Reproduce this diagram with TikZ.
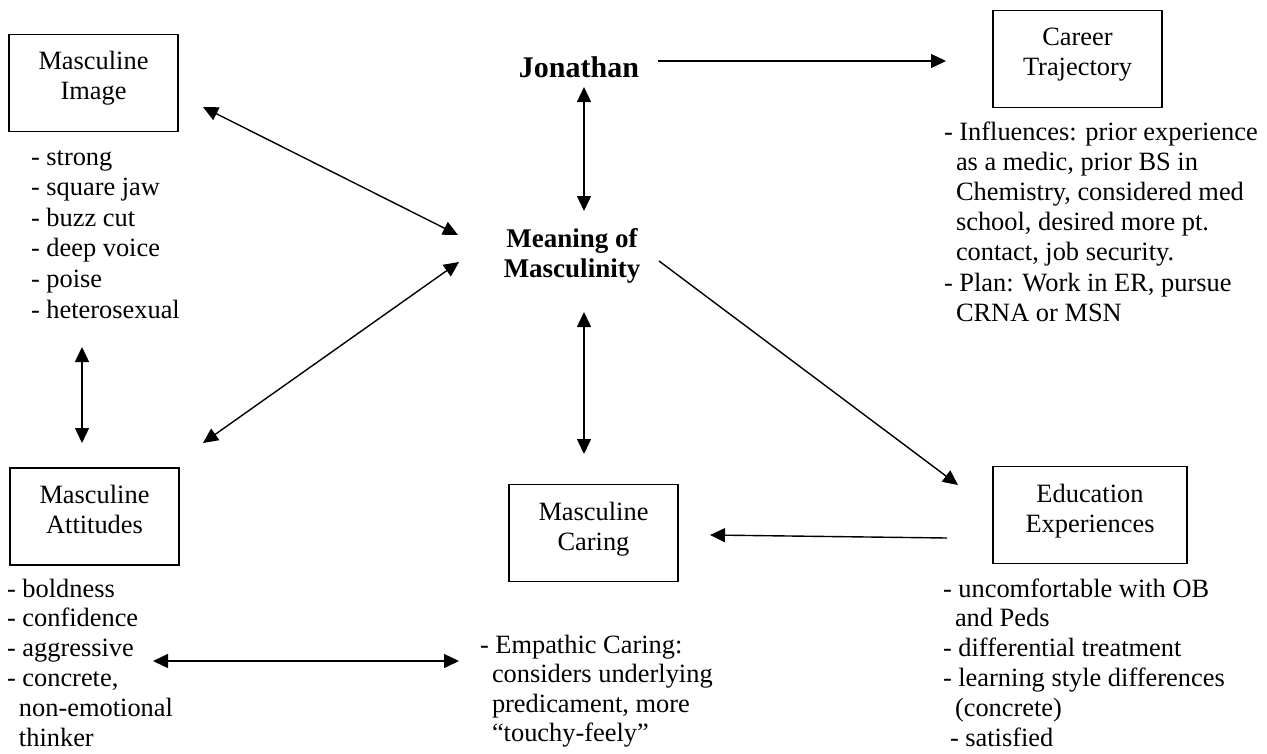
\documentclass[tikz,border=0pt]{standalone}
\usepackage{fontspec}
\setmainfont{Liberation Serif}
\usetikzlibrary{arrows.meta}

% stacked lines whose reference point is the baseline of the first line
\newcommand\stackL[1]{\begin{tabular}[t]{@{}l@{}}#1\end{tabular}}
\newcommand\stackC[1]{\begin{tabular}[t]{@{}c@{}}#1\end{tabular}}
\newcommand\cont{\hspace*{12pt}}

\begin{document}
\begin{tikzpicture}[x=1pt,y=-1pt,
  every node/.style={inner sep=0pt, outer sep=0pt, font=\fontsize{26.4}{30.6}\selectfont},
  frame/.style={draw, line width=1.3pt, minimum height=97pt},
  lbl/.style={anchor=base},
  lst/.style={anchor=base west},
  link/.style={line width=1.4pt, -{Triangle[length=15pt,width=14pt]}},
  both/.style={line width=1.4pt, {Triangle[length=15pt,width=14pt]}-{Triangle[length=15pt,width=14pt]}},
]
\useasboundingbox[fill=white] (0,0) rectangle (1267,753);

% ---- boxes ----
\node[frame, minimum width=169pt] (img)  at (93.5,83)   {};
\node[frame, minimum width=169pt] (car)  at (1077.5,59) {};
\node[frame, minimum width=169pt] (att)  at (94.5,516.5) {};
\node[frame, minimum width=169pt] (cari) at (593.5,533) {};
\node[frame, minimum width=194pt] (edu)  at (1090,515)  {};

% ---- box titles ----
\node[lbl] (imgT)  at (93.5,69)   {\stackC{Masculine\\Image}};
\node[lbl] (carT)  at (1077.5,45) {\stackC{Career\\Trajectory}};
\node[lbl] (attT)  at (94.5,503)  {\stackC{Masculine\\Attitudes}};
\node[lbl] (cariT) at (593.5,520) {\stackC{Masculine\\Caring}};
\node[lbl] (eduT)  at (1090,502)  {\stackC{Education\\Experiences}};

% ---- central labels ----
\node[lbl, font=\fontsize{30}{34}\selectfont\bfseries] (jon) at (579,77) {Jonathan};
\node[lbl, font=\fontsize{27}{30}\selectfont\bfseries] (mean) at (572,247) {\stackC{Meaning of\\Masculinity}};

% ---- attribute lists ----
\node[lst] (imgL) at (31,165) {\stackL{- strong\\- square jaw\\- buzz cut\\- deep voice\\- poise\\- heterosexual}};
\node[lst, font=\fontsize{26.4}{30.2}\selectfont] (carL) at (944,140) {\stackL{- Influences: prior experience\\\cont as a medic, prior BS in\\\cont Chemistry, considered med\\\cont school, desired more pt.\\\cont contact, job security.\\- Plan: Work in ER, pursue\\\cont CRNA or MSN}};
\node[lst, font=\fontsize{26.4}{29.8}\selectfont] (attL) at (7,597) {\stackL{- boldness\\- confidence\\- aggressive\\- concrete,\\\cont non-emotional\\\cont thinker}};
\node[lst, font=\fontsize{26.4}{29.5}\selectfont] (cariL) at (480,653) {\stackL{- Empathic Caring:\\\cont considers underlying\\\cont predicament, more\\\cont “touchy-feely”}};
\node[lst, font=\fontsize{26.4}{29.8}\selectfont] (eduL) at (943,597) {\stackL{- uncomfortable with OB\\\cont and Peds\\- differential treatment\\- learning style differences\\\cont (concrete)\\\hspace*{7pt}- satisfied}};

% ---- arrow end points ----
\coordinate (a1) at (203,107);  \coordinate (b1) at (458,235);
\coordinate (a2) at (203,443);  \coordinate (b2) at (459,262);
\coordinate (a3) at (82,347);   \coordinate (b3) at (82,443);
\coordinate (a4) at (658,61);   \coordinate (b4) at (946,61);
\coordinate (a5) at (584,87);   \coordinate (b5) at (584,211);
\coordinate (a6) at (584,312);  \coordinate (b6) at (584,454);
\coordinate (a7) at (659,261);  \coordinate (b7) at (958,485);
\coordinate (a8) at (947,538);  \coordinate (b8) at (710,535);
\coordinate (a9) at (153,661);  \coordinate (b9) at (459,661);

% ---- connectors ----
\draw[both] (a1) -- (b1);   % image <-> meaning
\draw[both] (a2) -- (b2);   % attitudes <-> meaning
\draw[both] (a3) -- (b3);   % image <-> attitudes
\draw[link] (a4) -- (b4);   % Jonathan -> career
\draw[both] (a5) -- (b5);   % Jonathan <-> meaning
\draw[both] (a6) -- (b6);   % meaning <-> caring
\draw[link] (a7) -- (b7);   % meaning -> education
\draw[link] (a8) -- (b8);   % education -> caring
\draw[both] (a9) -- (b9);   % attitudes <-> empathic caring
\end{tikzpicture}
\end{document}
